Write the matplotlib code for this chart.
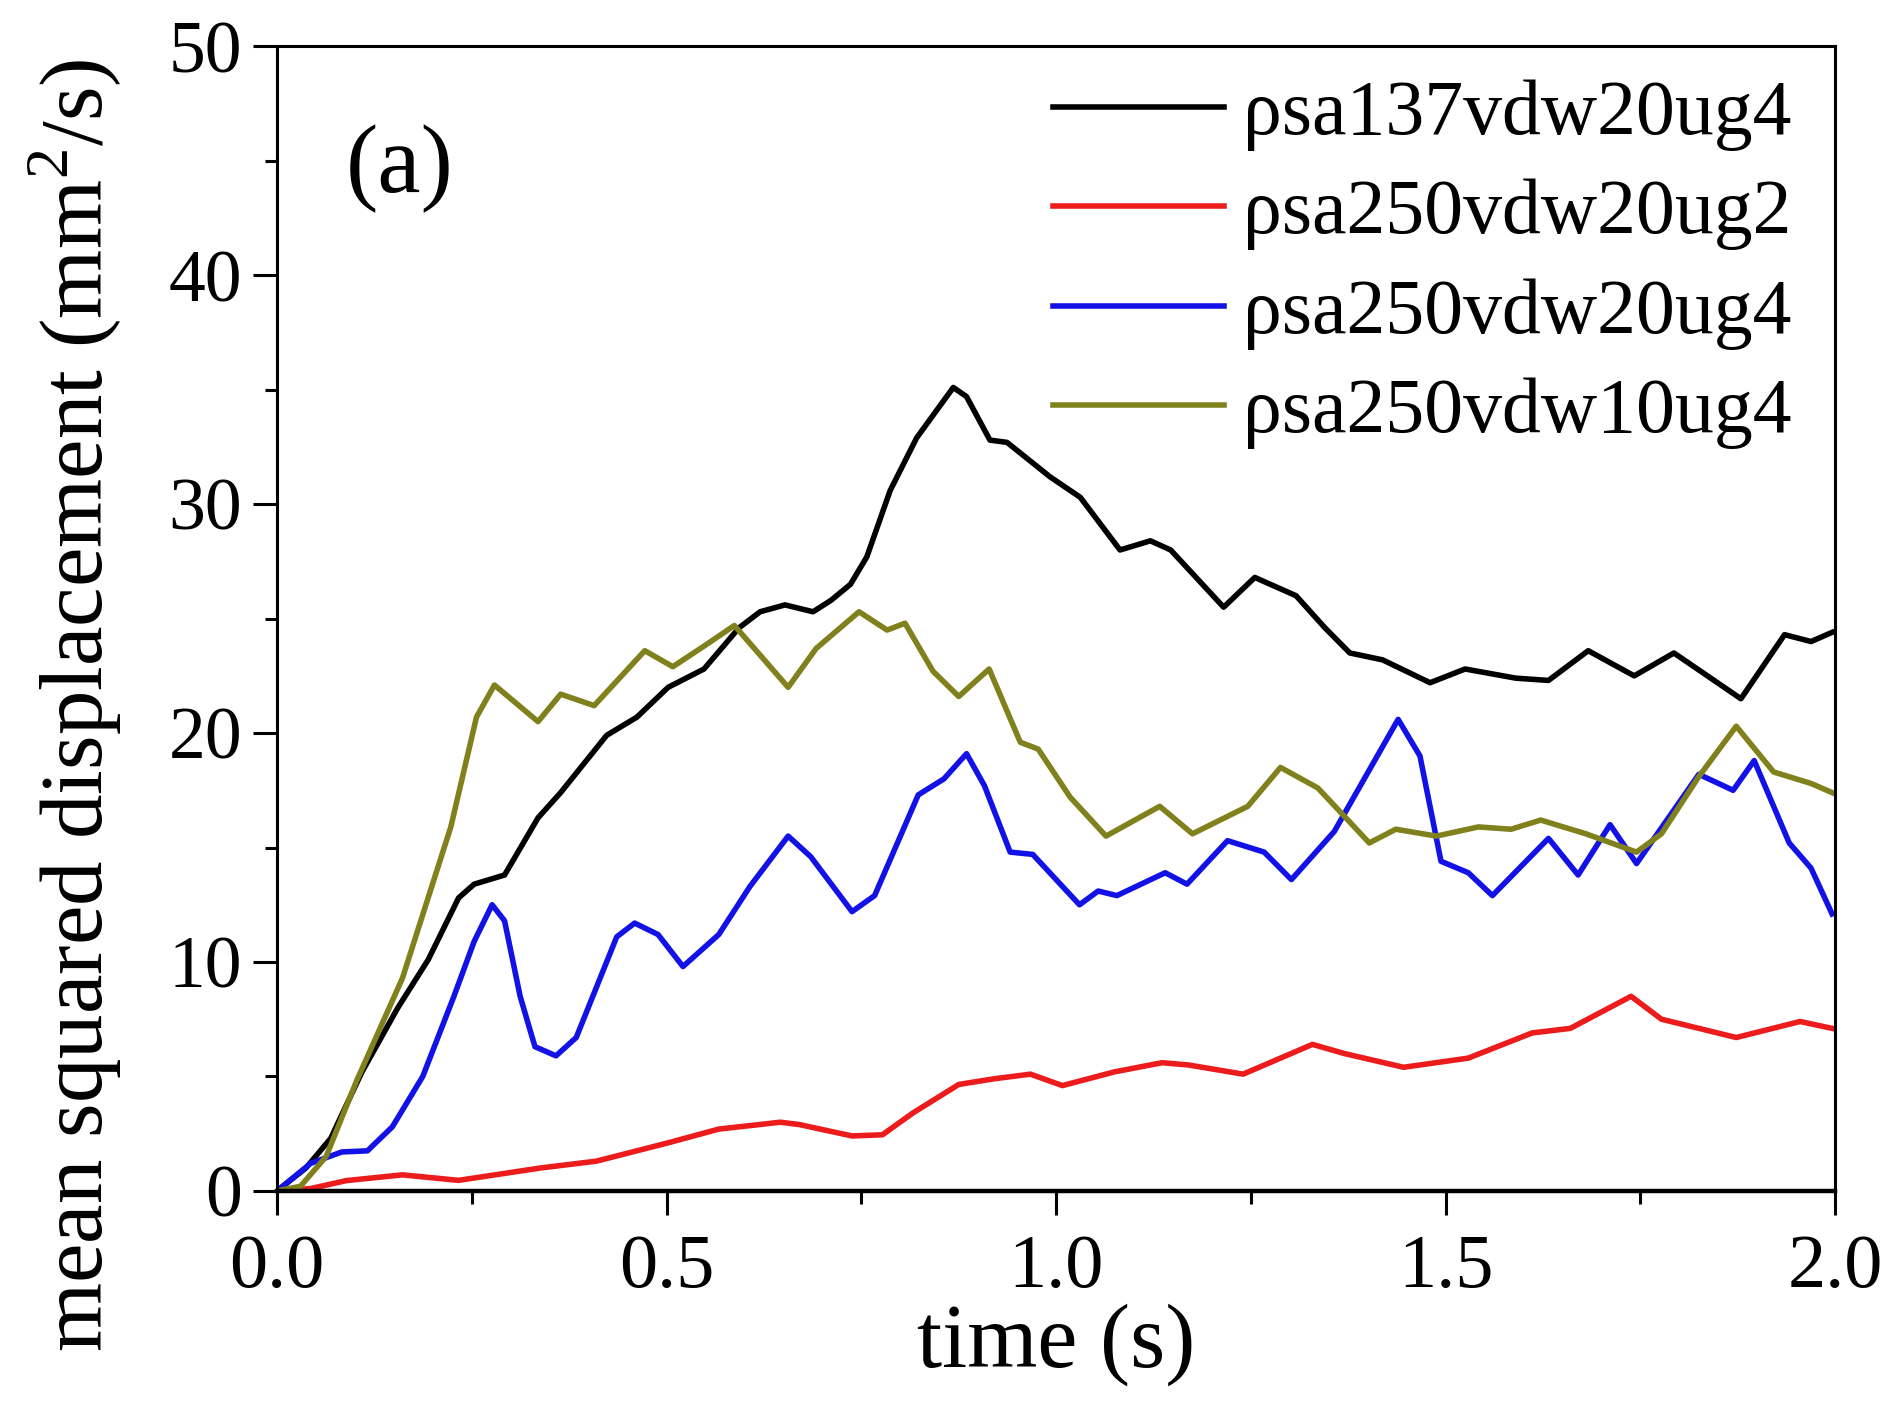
import matplotlib
matplotlib.use("Agg")
import matplotlib.pyplot as plt
from matplotlib.ticker import MultipleLocator

plt.rcParams['font.family'] = ['Liberation Serif', 'DejaVu Serif']
plt.rcParams['mathtext.fontset'] = 'custom'
plt.rcParams['mathtext.rm'] = 'Liberation Serif'

# series: time (s), msd (mm^2/s)
t_black = [0, 0.037, 0.069, 0.109, 0.155, 0.194, 0.233, 0.253, 0.292, 0.335, 0.364,
           0.423, 0.462, 0.502, 0.548, 0.593, 0.620, 0.652, 0.688, 0.711, 0.736, 0.757,
           0.787, 0.821, 0.868, 0.885, 0.915, 0.937, 0.992, 1.031, 1.082, 1.121, 1.147,
           1.215, 1.255, 1.308, 1.345, 1.377, 1.419, 1.480, 1.525, 1.590, 1.632, 1.683,
           1.742, 1.793, 1.879, 1.935, 1.969, 1.996]
v_black = [0, 1.0, 2.3, 5.2, 8.0, 10.1, 12.8, 13.4, 13.8, 16.3, 17.4,
           19.9, 20.7, 22.0, 22.8, 24.6, 25.3, 25.6, 25.3, 25.8, 26.5, 27.7,
           30.6, 32.9, 35.1, 34.7, 32.8, 32.7, 31.2, 30.3, 28.0, 28.4, 28.0,
           25.5, 26.8, 26.0, 24.6, 23.5, 23.2, 22.2, 22.8, 22.4, 22.3, 23.6,
           22.5, 23.5, 21.5, 24.3, 24.0, 24.4]

t_red = [0, 0.043, 0.089, 0.161, 0.233, 0.338, 0.410, 0.502, 0.567, 0.646, 0.670,
         0.738, 0.777, 0.816, 0.875, 0.921, 0.967, 1.008, 1.075, 1.136, 1.170, 1.240,
         1.329, 1.370, 1.446, 1.529, 1.611, 1.660, 1.738, 1.777, 1.873, 1.955, 1.996]
v_red = [0, 0.1, 0.45, 0.7, 0.46, 1.0, 1.3, 2.1, 2.7, 3.0, 2.9,
         2.4, 2.45, 3.4, 4.65, 4.9, 5.1, 4.6, 5.2, 5.6, 5.5, 5.1,
         6.4, 6.0, 5.4, 5.8, 6.9, 7.1, 8.5, 7.5, 6.7, 7.4, 7.1]

t_blue = [0, 0.043, 0.083, 0.116, 0.148, 0.187, 0.227, 0.253, 0.276, 0.292, 0.312,
          0.331, 0.358, 0.384, 0.410, 0.436, 0.459, 0.489, 0.521, 0.567, 0.607, 0.656,
          0.685, 0.738, 0.767, 0.823, 0.856, 0.885, 0.908, 0.941, 0.970, 1.030, 1.054,
          1.078, 1.140, 1.168, 1.220, 1.267, 1.302, 1.357, 1.439, 1.467, 1.494, 1.529,
          1.560, 1.632, 1.670, 1.711, 1.745, 1.825, 1.869, 1.896, 1.941, 1.969, 1.996]
v_blue = [0, 1.2, 1.7, 1.75, 2.8, 5.0, 8.5, 10.9, 12.5, 11.8, 8.5,
          6.3, 5.9, 6.7, 8.9, 11.1, 11.7, 11.2, 9.8, 11.2, 13.3, 15.5,
          14.6, 12.2, 12.9, 17.3, 18.0, 19.1, 17.7, 14.8, 14.7, 12.5, 13.1,
          12.9, 13.9, 13.4, 15.3, 14.8, 13.6, 15.7, 20.6, 19.0, 14.4, 13.9,
          12.9, 15.4, 13.8, 16.0, 14.3, 18.2, 17.5, 18.8, 15.2, 14.1, 12.1]

t_olive = [0, 0.030, 0.063, 0.102, 0.161, 0.223, 0.256, 0.279, 0.335, 0.364, 0.407,
           0.472, 0.508, 0.548, 0.587, 0.656, 0.692, 0.747, 0.783, 0.806, 0.842, 0.875,
           0.914, 0.954, 0.977, 1.018, 1.064, 1.133, 1.175, 1.246, 1.288, 1.336, 1.402,
           1.436, 1.488, 1.542, 1.584, 1.622, 1.680, 1.745, 1.777, 1.825, 1.873, 1.921,
           1.969, 1.996]
v_olive = [0, 0.2, 1.5, 4.8, 9.3, 15.9, 20.7, 22.1, 20.5, 21.7, 21.2,
           23.6, 22.9, 23.8, 24.7, 22.0, 23.7, 25.3, 24.5, 24.8, 22.7, 21.6,
           22.8, 19.6, 19.3, 17.2, 15.5, 16.8, 15.6, 16.8, 18.5, 17.6, 15.2,
           15.8, 15.5, 15.9, 15.8, 16.2, 15.6, 14.8, 15.6, 18.1, 20.3, 18.3,
           17.8, 17.4]

labels = ['ρsa137vdw20ug4', 'ρsa250vdw20ug2', 'ρsa250vdw20ug4', 'ρsa250vdw10ug4']
colors = ['black', '#ec1c1c', '#1212e6', '#80801c']

fig = plt.figure(figsize=(18.9, 14.06), dpi=100)
ax = fig.add_axes([0.1466, 0.153, 0.8244, 0.814])

series = [(t_black, v_black), (t_red, v_red), (t_blue, v_blue), (t_olive, v_olive)]
for (t, v), lab, c in zip(series, labels, colors):
    ax.plot(t, v, color=c, lw=4.0, label=lab, solid_joinstyle='round')

ax.set_xlim(0, 2)
ax.set_ylim(0, 50)
ax.xaxis.set_minor_locator(MultipleLocator(0.25))
ax.yaxis.set_major_locator(MultipleLocator(10))
ax.yaxis.set_minor_locator(MultipleLocator(5))
ax.set_xticks([0, 0.5, 1.0, 1.5, 2.0])
ax.set_xticklabels(['0.0', '0.5', '1.0', '1.5', '2.0'])

ax.tick_params(which='both', direction='out', width=2.2, top=False, right=False)
ax.tick_params(which='major', length=17)
ax.tick_params(which='minor', length=9)
ax.tick_params(axis='x', labelsize=55, pad=14)
ax.tick_params(axis='y', labelsize=53, pad=8)

for s in ax.spines.values():
    s.set_linewidth(2.2)
ax.spines['bottom'].set_linewidth(3.2)

ax.set_xlabel('time (s)', fontsize=65, labelpad=0)
ax.set_ylabel('mean squared displacement (mm$^\\mathrm{2}$/s)', fontsize=64)
ax.yaxis.set_label_coords(-0.098, 0.424)

ax.text(0.079, 0.893, '(a)', transform=ax.transAxes, fontsize=70,
        ha='center', va='center')

ax.legend(loc='upper left', bbox_to_anchor=(0.468, 1.012), frameon=False,
          fontsize=56, handlelength=2.2, handletextpad=0.25, labelspacing=0.36,
          borderaxespad=0.2)

fig.savefig('out.png', dpi=100)
